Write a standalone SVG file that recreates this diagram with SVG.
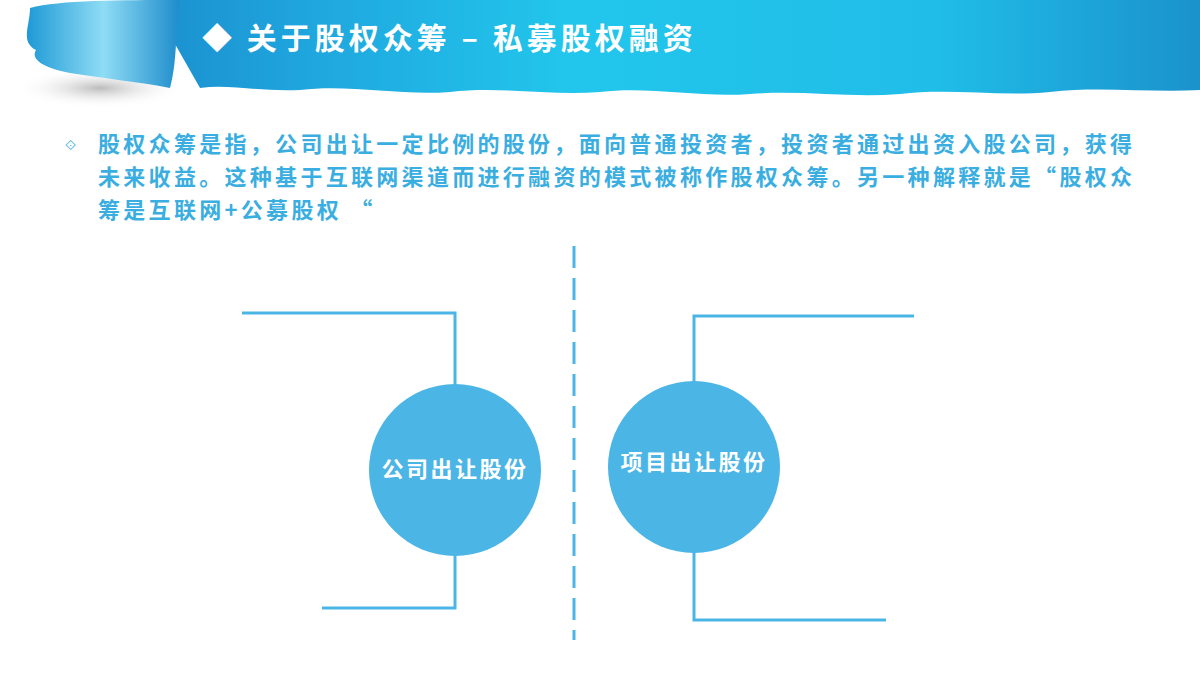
<svg xmlns="http://www.w3.org/2000/svg" width="1200" height="675" viewBox="0 0 1200 675">
<defs>
<linearGradient id="bn" x1="0" x2="1" y1="0" y2="0">
<stop offset="0" stop-color="#1b8fcf"/><stop offset="0.15" stop-color="#1fa6de"/><stop offset="0.4" stop-color="#22c6ec"/><stop offset="0.75" stop-color="#20bde8"/><stop offset="1" stop-color="#1a92cc"/></linearGradient>
<linearGradient id="cl" x1="0" x2="1"><stop offset="0" stop-color="#1e9ad6"/><stop offset="0.5" stop-color="#8fdcf5"/><stop offset="1" stop-color="#1e8ccb"/></linearGradient>
<radialGradient id="sh" cx="0.5" cy="0.5" r="0.5"><stop offset="0" stop-color="#bbb"/><stop offset="1" stop-color="#fff" stop-opacity="0"/></radialGradient>
<style>
.ln{fill:none;stroke:#4bb5e6;stroke-width:3}
.c{fill:#4bb5e6}
.ct{font-family:"Noto Sans CJK SC",sans-serif;font-weight:bold;font-size:22px;letter-spacing:2.5px;fill:#fff;text-anchor:middle}
.bd{font-family:"Noto Sans CJK SC",sans-serif;font-weight:bold;font-size:22px;letter-spacing:3.3px;fill:#3aaee0}
</style>
</defs>
<ellipse cx="100" cy="88" rx="85" ry="20" fill="url(#sh)"/>
<path d="M150 0 H1200 V90 C1150 93 1100 86 1050 92 C1000 97 950 88 900 94 C850 98 800 90 750 94 C700 98 650 86 600 92 C550 96 500 86 450 92 C400 96 350 84 300 90 C260 92 230 84 200 88 Z" fill="url(#bn)"/>
<path d="M30 8 C60 0 120 0 180 0 C175 25 178 60 170 88 C140 82 100 78 70 73 C45 68 30 60 36 50 C20 42 30 25 30 8 Z" fill="url(#cl)"/>
<g id="title"><text x="202" y="49" font-family="Noto Sans CJK SC,sans-serif" font-weight="bold" font-size="30" letter-spacing="4" fill="#fff">◆ 关于股权众筹 – 私募股权融资</text></g>
<g id="body">
<text x="65" y="150" font-family="DejaVu Sans,sans-serif" font-size="14" fill="#3aaee0">⟐</text>
<text class="bd" x="98" y="152">股权众筹是指，公司出让一定比例的股份，面向普通投资者，投资者通过出资入股公司，获得</text>
<text class="bd" x="98" y="185">未来收益。这种基于互联网渠道而进行融资的模式被称作股权众筹。另一种解释就是“股权众</text>
<text class="bd" x="98" y="218">筹是互联网+公募股权 “</text>
</g>
<g id="connectors">
<line x1="574" y1="246" x2="574" y2="640" stroke="#4bb5e6" stroke-width="3" stroke-dasharray="22,10"/>
<path class="ln" d="M242 313 H455 V390"/>
<path class="ln" d="M455 550 V608 H322"/>
<path class="ln" d="M914 316 H694 V390"/>
<path class="ln" d="M694 545 V620 H886"/>
</g>
<g id="n1"><circle class="c" cx="455" cy="470" r="86"/><text class="ct" x="455" y="477">公司出让股份</text></g>
<g id="n2"><circle class="c" cx="694" cy="467" r="86"/><text class="ct" x="694" y="470">项目出让股份</text></g>
</svg>
